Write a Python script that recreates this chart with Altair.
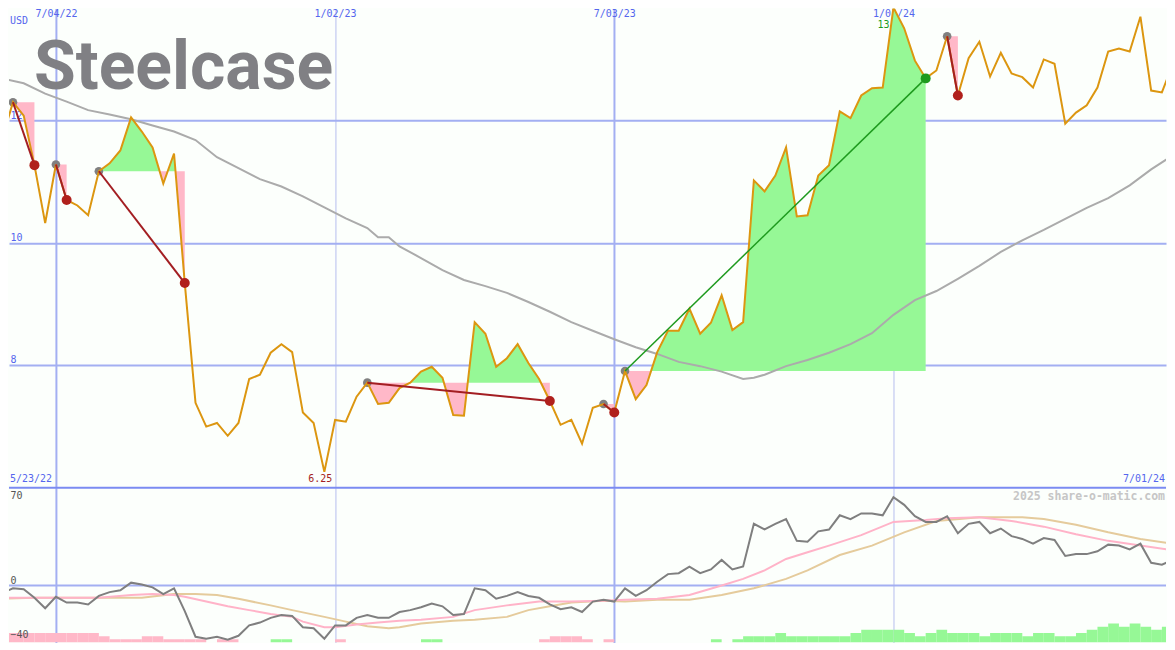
import altair as alt
import pandas as pd

# ---------------- data ----------------
first_week = "2022-05-30"  # one close per week (Mondays)

price = [
    11.71, 12.30, 12.08, 11.27, 10.32, 11.28, 10.70, 10.61, 10.45, 11.17,
    11.30, 11.51, 12.05, 11.82, 11.56, 10.97, 11.46, 9.34, 7.38, 6.99,
    7.05, 6.84, 7.05, 7.77, 7.84, 8.20, 8.34, 8.21, 7.22, 7.05,
    6.25, 7.10, 7.07, 7.48, 7.71, 7.36, 7.38, 7.62, 7.71, 7.89,
    7.97, 7.79, 7.18, 7.17, 8.70, 8.51, 7.97, 8.11, 8.34, 8.03,
    7.77, 7.41, 7.02, 7.10, 6.71, 7.30, 7.36, 7.22, 7.90, 7.44,
    7.67, 8.21, 8.56, 8.56, 8.92, 8.51, 8.69, 9.14, 8.57, 8.70,
    11.02, 10.84, 11.10, 11.56, 10.43, 10.45, 11.10, 11.27, 12.15, 12.04,
    12.41, 12.53, 12.54, 13.85, 13.51, 12.98, 12.69, 12.82, 13.38, 12.41,
    13.02, 13.29, 12.72, 13.11, 12.77, 12.71, 12.54, 13.00, 12.93, 11.95,
    12.13, 12.25, 12.54, 13.13, 13.18, 13.13, 13.70, 12.49, 12.46, 12.92,
]

osc = [
    -5.6, -2.1, -2.8, -9.1, -16.8, -8.4, -12.6, -12.6, -14.0, -7.7,
    -4.9, -3.5, 2.1, 0.7, -1.4, -6.3, -2.1, -18.9, -37.9, -39.3,
    -37.9, -40.0, -37.2, -29.5, -27.4, -23.9, -21.8, -22.5, -30.9, -31.6,
    -39.3, -29.5, -29.5, -23.9, -21.8, -23.9, -23.9, -19.6, -18.2, -16.1,
    -13.3, -15.4, -21.8, -21.1, -2.1, -3.5, -9.8, -7.7, -4.9, -7.7,
    -9.1, -14.0, -17.5, -16.1, -19.6, -11.9, -10.5, -11.9, -2.1, -7.7,
    -3.5, 2.8, 8.4, 9.1, 14.0, 9.1, 11.9, 18.9, 11.9, 14.0,
    45.6, 41.4, 45.6, 49.1, 33.0, 32.3, 40.0, 41.4, 51.9, 49.1,
    53.3, 53.3, 51.9, 65.3, 59.6, 51.2, 47.0, 47.0, 51.2, 38.6,
    45.6, 47.0, 38.6, 42.1, 36.5, 34.4, 30.9, 35.1, 33.7, 21.8,
    23.2, 23.2, 25.3, 30.2, 29.5, 26.7, 30.9, 16.8, 15.4, 18.9,
]

hist = [
    -3, -3, -3, -3, -3, -3, -3, -3, -3, -2,
    -1, -1, -1, -2, -2, -1, -1, -1, -1, 0,
    -1, -1, 0, 0, 0, 1, 1, 0, 0, 0,
    0, -1, 0, 0, 0, 0, 0, 0, 0, 1,
    1, 0, 0, 0, 0, 0, 0, 0, 0, 0,
    -1, -2, -2, -2, -1, 0, -1, 0, 0, 0,
    0, 0, 0, 0, 0, 0, 1, 0, 1, 2,
    2, 2, 3, 2, 2, 2, 2, 2, 2, 3,
    4, 4, 4, 4, 3, 2, 3, 4, 3, 3,
    3, 2, 3, 3, 3, 2, 3, 3, 2, 2,
    3, 4, 5, 6, 5, 6, 5, 4, 5, 5,
]

# long moving average of price (week index, value)
ma_idx = [0, 2, 4, 6, 8, 10, 12, 14, 16, 18, 20, 22, 24, 26, 28, 30, 32, 34, 35, 36,
          37, 39, 41, 43, 45, 47, 49, 51, 53, 55, 57, 59, 61, 63, 65, 67, 69, 70, 71, 73,
          75, 77, 79, 81, 83, 85, 87, 89, 91, 93, 95, 97, 99, 101, 103, 105, 107, 109]
ma_val = [12.69, 12.61, 12.44, 12.31, 12.17, 12.10, 12.02, 11.92, 11.82, 11.68, 11.40, 11.22,
          11.04, 10.92, 10.76, 10.58, 10.40, 10.24, 10.09, 10.09, 9.94, 9.75, 9.55, 9.39,
          9.29, 9.18, 9.03, 8.87, 8.70, 8.56, 8.42, 8.29, 8.18, 8.05, 7.98, 7.89, 7.77, 7.79,
          7.84, 7.98, 8.08, 8.20, 8.34, 8.52, 8.82, 9.06, 9.21, 9.41, 9.62, 9.85, 10.04,
          10.21, 10.39, 10.57, 10.73, 10.94, 11.20, 11.43]

# oscillator averages (week index, value)
fast_idx = [0, 5, 9, 12, 14, 16, 17, 19, 21, 23, 25, 27, 28, 30, 31, 33, 35, 37, 39, 42, 44,
            47, 50, 53, 56, 58, 61, 64, 67, 69, 71, 73, 75, 77, 80, 83, 86, 88, 91, 94, 97,
            100, 103, 106, 109]
fast_val = [-9.1, -9.1, -9.1, -7.0, -6.3, -7.0, -8.4, -11.9, -15.4, -18.2, -21.1, -23.2,
            -26.7, -30.9, -30.9, -28.8, -27.4, -26.0, -25.3, -23.2, -18.2, -14.7, -11.9,
            -11.9, -11.2, -10.5, -9.8, -7.0, 0.0, 4.9, 11.2, 19.6, 24.6, 29.5, 37.2, 47.0,
            48.4, 49.8, 50.5, 47.7, 43.5, 37.9, 33.0, 29.5, 26.0]
slow_idx = [0, 3, 9, 13, 16, 18, 20, 22, 25, 27, 30, 32, 34, 36, 37, 39, 42, 44, 47, 49, 51,
            53, 56, 58, 61, 64, 67, 70, 73, 75, 78, 81, 84, 87, 91, 95, 97, 100, 103, 106, 109]
slow_val = [-9.8, -9.1, -9.1, -9.1, -6.3, -6.3, -7.0, -9.8, -14.7, -18.2, -23.2, -26.7,
            -30.2, -31.6, -30.9, -28.1, -26.0, -25.3, -23.2, -18.2, -15.4, -12.6, -11.2,
            -11.9, -10.5, -10.5, -7.0, -2.1, 4.9, 11.2, 22.5, 29.5, 39.3, 47.7, 50.5, 50.5,
            49.1, 44.9, 39.3, 34.4, 30.9]

# trades (week index of entry / exit)
entry_idx = [1, 5, 9, 34, 56, 58, 88]
exit_idx = [3, 6, 17, 51, 57, 86, 89]

grid_dates = ["2022-07-04", "2023-01-02", "2023-07-03", "2024-01-01"]
price_ticks = [8, 10, 12]
osc_ticks = [-40, 0, 70]
osc_zero = [0]
first_label = "5/23/22"
last_label = "7/01/24"

# ---------------- styles ----------------
W, H_TOP, H_BOT = 1159, 479, 155
MONO = "DejaVu Sans Mono"
BLUE_LABEL = "#5566EE"
GRID = "#A3AFF2"
GRID_THIN = "#B6BEEE"
BORDER = "#7B8BF2"
ORANGE = "#DC9610"
MA_GRAY = "#ABABAB"
OSC_GRAY = "#7F7F7F"
PINK_LINE = "#FFB3C8"
TAN_LINE = "#E5CB9C"
GREEN_FILL = "#96F896"
PINK_FILL = "#FFB8C8"
LOSS = "#A31E22"
WIN = "#1E9A1E"
EXIT_RED = "#B0201C"
ENTRY_GRAY = "#808080"
BG = "#FCFFFC"

# ---------------- tables ----------------
dates = pd.date_range(first_week, periods=len(price), freq="7D")


def iso(ts):
    return pd.Timestamp(ts).strftime("%Y-%m-%dT%H:%M:%SZ")


week_df = pd.DataFrame({
    "date": [iso(d) for d in dates],
    "end": [iso(d + pd.Timedelta(days=7)) for d in dates],
    "price": price,
    "osc": osc,
    "hist": hist,
})
ma_df = pd.DataFrame({"date": [iso(dates[i]) for i in ma_idx], "v": ma_val})
fast_df = pd.DataFrame({"date": [iso(dates[i]) for i in fast_idx], "v": fast_val})
slow_df = pd.DataFrame({"date": [iso(dates[i]) for i in slow_idx], "v": slow_val})

fill_rows, trade_rows, entry_rows, exit_rows = [], [], [], []
for t, (a, b) in enumerate(zip(entry_idx, exit_idx)):
    lvl = price[a]
    result = "win" if price[b] > lvl else "loss"
    for j in range(a, b + 1):
        p = price[j]
        fill_rows.append(dict(trade=t, date=iso(dates[j]), hi=max(p, lvl), lo=min(p, lvl), level=lvl))
        if j < b:
            q = price[j + 1]
            if (p - lvl) * (q - lvl) < 0:
                f = (lvl - p) / (q - p)
                tc = dates[j] + (dates[j + 1] - dates[j]) * f
                fill_rows.append(dict(trade=t, date=iso(tc), hi=lvl, lo=lvl, level=lvl))
    trade_rows.append(dict(trade=t, date=iso(dates[a]), price=lvl, result=result))
    trade_rows.append(dict(trade=t, date=iso(dates[b]), price=price[b], result=result))
    entry_rows.append(dict(date=iso(dates[a]), price=lvl))
    exit_rows.append(dict(date=iso(dates[b]), price=price[b], result=result))
fill_df = pd.DataFrame(fill_rows)
trade_df = pd.DataFrame(trade_rows)
entry_df = pd.DataFrame(entry_rows)
exit_df = pd.DataFrame(exit_rows)

i_min = price.index(min(price))
i_max = price.index(max(price))
min_df = pd.DataFrame({"date": [iso(dates[i_min])], "t": [f"{price[i_min]:.2f}"]})
max_df = pd.DataFrame({"date": [iso(dates[i_max])], "t": [f"{price[i_max]:.1f}"]})

# ---------------- scales & axes ----------------
X_SCALE = alt.Scale(
    type="utc", nice=False,
    domain=[alt.DateTime(year=2022, month=6, date=3, hours=9, minutes=55, utc=True),
            alt.DateTime(year=2024, month=6, date=26, hours=16, minutes=19, utc=True)])
Y_TOP = alt.Scale(domain=[6.0065, 13.833], zero=False, nice=False)
Y_BOT = alt.Scale(domain=[-42.11, 72.28], zero=False, nice=False)
H_SCALE = alt.Scale(domain=[0, H_BOT / 3.15], zero=False, nice=False)

grid_vals = [alt.DateTime(year=int(s[:4]), month=int(s[5:7]), date=int(s[8:]), utc=True)
             for s in grid_dates]
is_july = "utcmonth(datum.value) == 6"

X_AXIS_TOP = alt.Axis(
    orient="top", values=grid_vals, format="%-m/%d/%y", title=None,
    labelFont=MONO, labelFontSize=10, labelColor=BLUE_LABEL, labelBaseline="top",
    labelPadding=0, ticks=False, tickSize=0, domain=False, labelFlush=False,
    labelOverlap=False, minExtent=0, grid=True,
    gridColor=alt.condition(is_july, alt.value(GRID), alt.value(GRID_THIN)),
    gridWidth=alt.condition(is_july, alt.value(2), alt.value(1)))
Y_AXIS_TOP = alt.Axis(
    orient="left", values=price_ticks, title=None, labelFont=MONO, labelFontSize=10,
    labelColor=BLUE_LABEL, labelAlign="left", labelBaseline="bottom", labelPadding=-1,
    ticks=False, tickSize=0, domain=False, labelFlush=False, minExtent=0,
    grid=True, gridColor=GRID, gridWidth=2)
X_AXIS_BOT = alt.Axis(
    orient="bottom", values=grid_vals, title=None, labels=False, ticks=False, tickSize=0,
    domain=False, minExtent=0, grid=True,
    gridColor=alt.condition(is_july, alt.value(GRID), alt.value(GRID_THIN)),
    gridWidth=alt.condition(is_july, alt.value(2), alt.value(1)))
Y_AXIS_BOT = alt.Axis(
    orient="left", values=osc_ticks, title=None, labelFont=MONO, labelFontSize=10,
    labelColor="#555555", labelAlign="left",
    labelBaseline=alt.condition("datum.value == 70", alt.value("top"), alt.value("bottom")),
    labelPadding=-1, ticks=False, tickSize=0, domain=False, labelFlush=False, minExtent=0,
    grid=False, zindex=1)


# every layer carries the same axis definition so that they merge cleanly
def xt(field="date"):
    return alt.X(f"{field}:T", scale=X_SCALE, axis=X_AXIS_TOP)


def yt(field):
    return alt.Y(f"{field}:Q", scale=Y_TOP, axis=Y_AXIS_TOP, stack=None)


def xb(field="date"):
    return alt.X(f"{field}:T", scale=X_SCALE, axis=X_AXIS_BOT)


def yb(field):
    return alt.Y(f"{field}:Q", scale=Y_BOT, axis=Y_AXIS_BOT)


# ---------------- top panel ----------------
logo = alt.Chart(pd.DataFrame({"t": ["Steelcase"]})).mark_text(
    align="left", baseline="alphabetic", fontSize=68, fontWeight="bold",
    font="Roboto", color="#808084"
).encode(text="t:N", x=alt.value(25), y=alt.value(81))

max_lbl = alt.Chart(max_df).mark_text(
    font=MONO, fontSize=10, color=WIN, baseline="middle", dx=-4
).encode(x=xt(), y=alt.value(16), text="t:N")

green_fill = alt.Chart(fill_df).mark_area(color=GREEN_FILL, opacity=1, clip=True).encode(
    x=xt(), y=yt("hi"), y2="level:Q", detail="trade:N")
pink_fill = alt.Chart(fill_df).mark_area(color=PINK_FILL, opacity=1, clip=True).encode(
    x=xt(), y=yt("lo"), y2="level:Q", detail="trade:N")

ma_line = alt.Chart(ma_df).mark_line(color=MA_GRAY, strokeWidth=2, clip=True).encode(
    x=xt(), y=yt("v"))

entries = alt.Chart(entry_df).mark_circle(size=75, color=ENTRY_GRAY, opacity=1, clip=True).encode(
    x=xt(), y=yt("price"))

price_line = alt.Chart(week_df).mark_line(color=ORANGE, strokeWidth=2, clip=True).encode(
    x=xt(), y=yt("price"))

loss_lines = alt.Chart(trade_df).transform_filter("datum.result == 'loss'").mark_line(
    color=LOSS, strokeWidth=2, clip=True).encode(x=xt(), y=yt("price"), detail="trade:N")
win_lines = alt.Chart(trade_df).transform_filter("datum.result == 'win'").mark_line(
    color=WIN, strokeWidth=1.5, clip=True).encode(x=xt(), y=yt("price"), detail="trade:N")

loss_exits = alt.Chart(exit_df).transform_filter("datum.result == 'loss'").mark_circle(
    size=100, opacity=1, color=EXIT_RED, clip=True).encode(x=xt(), y=yt("price"))
win_exits = alt.Chart(exit_df).transform_filter("datum.result == 'win'").mark_circle(
    size=100, opacity=1, color=WIN, clip=True).encode(x=xt(), y=yt("price"))

usd = alt.Chart(pd.DataFrame({"t": ["USD"]})).mark_text(
    font=MONO, fontSize=10, color=BLUE_LABEL, align="left", baseline="middle"
).encode(text="t:N", x=alt.value(1), y=alt.value(12))
first_txt = alt.Chart(pd.DataFrame({"t": [first_label]})).mark_text(
    font=MONO, fontSize=10, color=BLUE_LABEL, align="left", baseline="middle"
).encode(text="t:N", x=alt.value(1), y=alt.value(471))
last_txt = alt.Chart(pd.DataFrame({"t": [last_label]})).mark_text(
    font=MONO, fontSize=10, color=BLUE_LABEL, align="right", baseline="middle"
).encode(text="t:N", x=alt.value(W - 1), y=alt.value(471))
min_lbl = alt.Chart(min_df).mark_text(
    font=MONO, fontSize=10, color=LOSS, baseline="middle", dx=-4
).encode(x=xt(), y=alt.value(471), text="t:N")

top = alt.layer(
    logo, max_lbl, green_fill, pink_fill, ma_line, entries, price_line,
    loss_lines, win_lines, loss_exits, win_exits, usd, first_txt, last_txt, min_lbl
).properties(width=W, height=H_TOP)

# ---------------- bottom panel ----------------
bar_base = alt.Chart(week_df).transform_calculate(h="abs(datum.hist)")
neg_bars = bar_base.transform_filter("datum.hist < 0").mark_rect(
    color=PINK_FILL, clip=True).encode(
    x=xb(), x2="end:T", y=alt.Y("h:Q", scale=H_SCALE, axis=None), y2=alt.datum(0))
pos_bars = bar_base.transform_filter("datum.hist > 0").mark_rect(
    color=GREEN_FILL, clip=True).encode(
    x=xb(), x2="end:T", y=alt.Y("h:Q", scale=H_SCALE, axis=None), y2=alt.datum(0))

zero_line = alt.Chart(pd.DataFrame({"v": osc_zero})).mark_rule(
    color=GRID, strokeWidth=2).encode(y=yb("v"))
slow_line = alt.Chart(slow_df).mark_line(color=TAN_LINE, strokeWidth=2, clip=True).encode(
    x=xb(), y=yb("v"))
fast_line = alt.Chart(fast_df).mark_line(color=PINK_LINE, strokeWidth=2, clip=True).encode(
    x=xb(), y=yb("v"))
osc_line = alt.Chart(week_df).mark_line(color=OSC_GRAY, strokeWidth=2, clip=True).encode(
    x=xb(), y=yb("osc"))
border = alt.Chart(pd.DataFrame({"a": [0]})).mark_rule(color=BORDER, strokeWidth=2).encode(
    x=alt.value(0), x2=alt.value(W), y=alt.value(0))
watermark = alt.Chart(pd.DataFrame({"t": ["2025 share-o-matic.com"]})).mark_text(
    font=MONO, fontSize=11.5, fontWeight="bold", color="#C6C6C6", align="right",
    baseline="middle").encode(text="t:N", x=alt.value(W - 1), y=alt.value(9))

bottom = alt.layer(
    alt.layer(neg_bars, pos_bars),
    alt.layer(zero_line, slow_line, fast_line, osc_line, border, watermark),
).resolve_scale(y="independent").properties(width=W, height=H_BOT)

chart = alt.vconcat(top, bottom, spacing=0).properties(
    padding=0, background=BG
).configure_view(stroke=None)

chart.save("out.html", embed_options={"renderer": "svg", "actions": False})
